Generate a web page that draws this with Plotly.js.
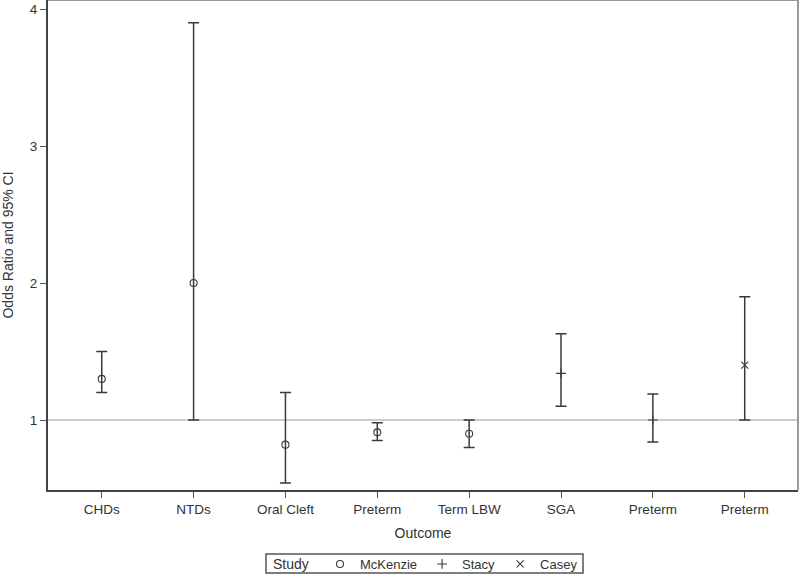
<!DOCTYPE html>
<html>
<head>
<meta charset="utf-8">
<script src="https://cdn.plot.ly/plotly-3.0.1.min.js"></script>
<style>html,body{margin:0;padding:0;background:#fff;}#chart{width:800px;height:575px;}</style>
</head>
<body>
<div id="chart"></div>
<script>
const outcomes = ["CHDs","NTDs","Oral Cleft","Preterm","Term LBW","SGA","Preterm","Preterm"];
const studies  = ["McKenzie","McKenzie","McKenzie","McKenzie","McKenzie","Stacy","Stacy","Casey"];
const oddsRatio = [1.30, 2.00, 0.82, 0.91, 0.90, 1.34, 1.00, 1.40];
const lowerCI   = [1.20, 1.00, 0.54, 0.85, 0.80, 1.10, 0.84, 1.00];
const upperCI   = [1.50, 3.90, 1.20, 0.98, 1.00, 1.63, 1.19, 1.90];
const yTicks = [1, 2, 3, 4];
const studyOrder = ["McKenzie","Stacy","Casey"];
const legendTitle = "Study";
const symbols = {McKenzie:"circle-open", Stacy:"cross-thin-open", Casey:"x-thin-open"};
const sizes = {McKenzie:7, Stacy:7, Casey:7};

const ink = "#3a3a3a";
const traces = studyOrder.map(s => {
  const idx = studies.map((v,i)=> v===s ? i : -1).filter(i=>i>=0);
  return {
    type: "scatter", mode: "markers", name: s,
    x: idx, y: idx.map(i=>oddsRatio[i]),
    error_y: {type:"data", symmetric:false,
      array: idx.map(i=>upperCI[i]-oddsRatio[i]),
      arrayminus: idx.map(i=>oddsRatio[i]-lowerCI[i]),
      color: ink, thickness: 1.5, width: 5.5},
    marker: {symbol: symbols[s], size: sizes[s], color: ink, line:{color: ink, width: 1.1}},
    hoverinfo: "skip"
  };
});

const px = v => (v-48)/750;      // pixel -> paper x
const py = v => (490-v)/490;     // pixel -> paper y
const layout = {
  width: 800, height: 575,
  margin: {l: 48, r: 2, t: 0, b: 85, autoexpand: false},
  paper_bgcolor: "#fff", plot_bgcolor: "#fff",
  font: {family: "Liberation Sans, Arial, sans-serif", size: 13.5, color: "#333"},
  showlegend: true,
  xaxis: {
    range: [-0.585, 7.58], tickvals: outcomes.map((_,i)=>i), ticktext: outcomes,
    showgrid: false, zeroline: false, showline: true, linecolor: "#444", linewidth: 2,
    ticks: "outside", ticklen: 6, tickcolor: "#555", tickwidth: 1,
    tickfont: {size: 13.5, color: "#333"},
    title: {text: "Outcome", standoff: 12, font:{size:14, color:"#333"}}
  },
  yaxis: {
    range: [0.489, 4.066], tickvals: yTicks,
    showgrid: false, zeroline: false, showline: true, linecolor: "#444", linewidth: 2,
    ticks: "outside", ticklen: 6, tickcolor: "#555", tickwidth: 1,
    tickfont: {size: 13.5, color: "#333"},
    title: {text: "Odds Ratio and 95% CI", standoff: 14, font:{size:14, color:"#333"}}
  },
  shapes: [
    {type:"line", xref:"paper", yref:"y", x0:0, x1:1, y0:1, y1:1, line:{color:"#bbbbbb", width:1.5}, layer:"below"},
    {type:"line", xref:"paper", yref:"paper", x0:0, x1:1, y0:1, y1:1, line:{color:"#999", width:2}},
    {type:"line", xref:"paper", yref:"paper", x0:1, x1:1, y0:0, y1:1, line:{color:"#999", width:2}},
    {type:"rect", xref:"paper", yref:"paper", x0:px(266), x1:px(583), y0:py(573), y1:py(554),
     line:{color:"#555", width:1.5}, fillcolor:"rgba(0,0,0,0)"}
  ],
  annotations: [
    {text: legendTitle, xref:"paper", yref:"paper", x:px(271), xanchor:"left",
     y:py(564), yanchor:"middle", showarrow:false, font:{size:14, color:"#333"}}
  ],
  legend: {
    orientation: "h", x: px(320), xanchor: "left", y: py(549), yanchor: "top",
    borderwidth: 0, bgcolor: "rgba(0,0,0,0)",
    font: {size: 13, color: "#333"}, itemwidth: 30, tracegroupgap: 0
  }
};

Plotly.newPlot("chart", traces, layout, {displayModeBar: false, staticPlot: true});
</script>
</body>
</html>
